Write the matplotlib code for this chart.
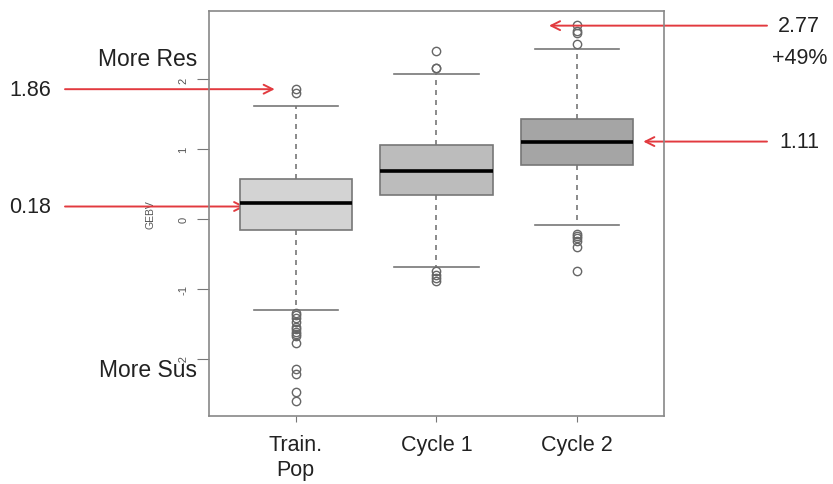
import matplotlib
matplotlib.use("Agg")
import matplotlib.pyplot as plt

plt.rcParams['font.family'] = ['Liberation Sans', 'DejaVu Sans']

categories = ["Train.\nPop", "Cycle 1", "Cycle 2"]
q1 = [-0.16, 0.34, 0.77]
medians = [0.23, 0.69, 1.10]
q3 = [0.57, 1.06, 1.43]
whisker_low = [-1.30, -0.69, -0.09]
whisker_high = [1.62, 2.08, 2.43]
outliers = [
    [1.80, 1.86, -1.34, -1.38, -1.42, -1.47, -1.55, -1.58, -1.61, -1.64, -1.68, -1.78,
     -2.14, -2.22, -2.47, -2.61],
    [2.16, 2.17, 2.40, -0.75, -0.80, -0.85, -0.88],
    [2.50, 2.66, 2.70, 2.78, -0.21, -0.24, -0.27, -0.31, -0.40, -0.74],
]
box_colors = ["#d3d3d3", "#bcbcbc", "#a5a5a5"]
yticks = [-2, -1, 0, 1, 2]

annot_left = [("1.86", 1.86, 0.85), ("0.18", 0.18, 0.64)]
annot_right = [("2.77", 2.77, 2.80), ("1.11", 1.11, 3.47)]

fig = plt.figure(figsize=(8.33, 4.85), dpi=100)
ax = fig.add_axes([0.2509, 0.1402, 0.7971 - 0.2509, 0.9753 - 0.1402])

stats = []
for i in range(3):
    stats.append(dict(med=medians[i], q1=q1[i], q3=q3[i], whislo=whisker_low[i],
                      whishi=whisker_high[i], fliers=outliers[i], label=categories[i]))

edge = "#777777"
bp = ax.bxp(stats, positions=[1, 2, 3], widths=0.8, patch_artist=True,
            boxprops=dict(edgecolor=edge, linewidth=1.2),
            medianprops=dict(color="black", linewidth=2.6),
            whiskerprops=dict(color=edge, linestyle=(0, (3, 3)), linewidth=1.2),
            capprops=dict(color=edge, linewidth=1.2),
            capwidths=0.6,
            flierprops=dict(marker="o", markerfacecolor="none", markeredgecolor="#666666",
                            markersize=6, markeredgewidth=1.0))
for patch, c in zip(bp["boxes"], box_colors):
    patch.set_facecolor(c)
    patch.set_zorder(3)
for m in bp["medians"]:
    m.set_zorder(4)

ax.set_xlim(0.383, 3.617)
ax.set_ylim(-2.82, 2.98)
ax.set_yticks(yticks)
ax.set_yticklabels([str(v) for v in yticks], rotation=90, va="center",
                   fontsize=8, color="#555555")
ax.set_xticks([1, 2, 3])
ax.set_xticklabels(categories, fontsize=15.5, color="#222222", linespacing=1.25, va="top")
ax.tick_params(axis="y", length=9, color="#777777", pad=6)
ax.tick_params(axis="x", length=4, color="#777777", pad=9)
for s in ax.spines.values():
    s.set_color("#888888")
    s.set_linewidth(1.2)
ax.set_ylabel("GEBV", fontsize=7.5, color="#555555", labelpad=16)

red = "#e23a3f"
fs = 15.5
# left annotations
for txt, val, xend in annot_left:
    ax.annotate("", xy=(xend, val), xycoords="data",
                xytext=(65 / 833, val), textcoords=("figure fraction", "data"),
                arrowprops=dict(arrowstyle="->", color=red, lw=1.4,
                                mutation_scale=16, shrinkA=0, shrinkB=0),
                annotation_clip=False, zorder=2)
    ax.annotate(txt, xy=(30 / 833, val), xycoords=("figure fraction", "data"),
                ha="center", va="center", fontsize=fs, color="#222222",
                annotation_clip=False)
# right annotations
for txt, val, xend in annot_right:
    ax.annotate("", xy=(xend, val), xycoords="data",
                xytext=(767 / 833, val), textcoords=("figure fraction", "data"),
                arrowprops=dict(arrowstyle="->", color=red, lw=1.4,
                                mutation_scale=16, shrinkA=0, shrinkB=0),
                annotation_clip=False, zorder=2)
    ax.annotate(txt, xy=(799 / 833, val), xycoords=("figure fraction", "data"),
                ha="center", va="center", fontsize=fs, color="#222222",
                annotation_clip=False)

fig.text(800 / 833, 1 - 59 / 485, "+49%", ha="center", va="center",
         fontsize=fs, color="#222222")
fig.text(148 / 833, 1 - 59 / 485, "More Res", ha="center", va="center",
         fontsize=16.5, color="#222222")
fig.text(148 / 833, 1 - 371 / 485, "More Sus", ha="center", va="center",
         fontsize=16.5, color="#222222")

fig.savefig("out.png", dpi=100)
